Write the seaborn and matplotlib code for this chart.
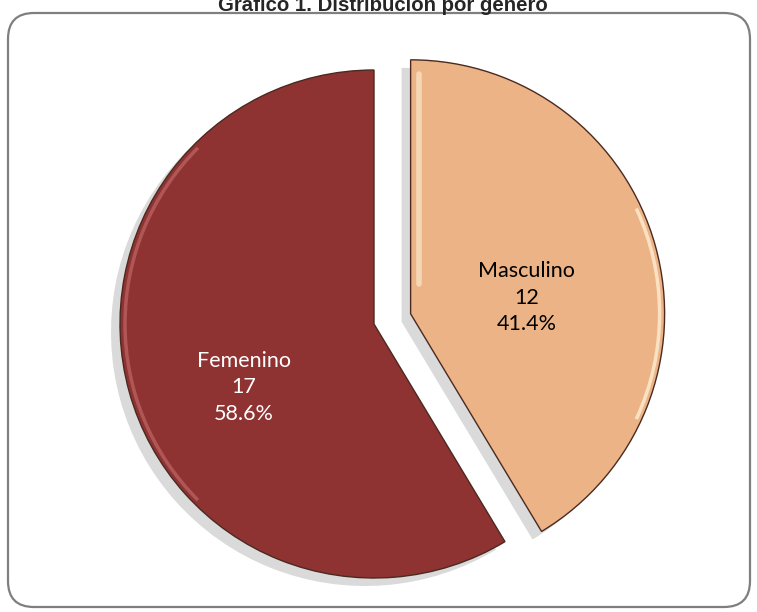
import numpy as np
import seaborn as sns
import matplotlib.pyplot as plt
from matplotlib.patches import FancyBboxPatch, Arc

# data
generos = ['Masculino', 'Femenino']
cantidades = [12, 17]
porcentajes = [41.4, 58.6]
colores = ['#ecb387', '#8f3232']
color_texto = ['black', 'white']
titulo = 'Gráfico 1. Distribución por género'

sns.set_theme(style='white')
plt.rcParams['font.family'] = ['Lato', 'DejaVu Sans']

W, H = 757, 612
fig = plt.figure(figsize=(W / 100, H / 100), dpi=100)
ax = fig.add_axes([0, 0, 1, 1])

# everything in pixel units, y up
R = 254
centro = (374, H - 324)
explode = [38, 0]   # pie explode is in data units

# soft shadow under the slices
ax.pie(cantidades, radius=R, center=(centro[0] - 9, centro[1] - 8),
       startangle=90, counterclock=False, explode=explode,
       colors=['#dadada', '#dadada'], wedgeprops=dict(linewidth=0))

wedges, _ = ax.pie(cantidades, radius=R, center=centro, startangle=90,
                   counterclock=False, explode=explode, colors=colores,
                   wedgeprops=dict(linewidth=1.0, edgecolor='#4a2a20'))

# bevel highlights (soft)
for w, hc, (a1, a2), al in zip(wedges, ['#fff6dc', '#d98484'],
                               [(-25, 25), (135, 225)], [0.7, 0.45]):
    cx, cy = w.center
    ax.add_patch(Arc((cx, cy), 2 * (R - 5), 2 * (R - 5), theta1=a1, theta2=a2,
                     color=hc, lw=2.5, alpha=al))
mc = wedges[0].center
ax.plot([mc[0] + 8, mc[0] + 8], [mc[1] + 30, mc[1] + R - 14],
        color='#fff6dc', lw=4, alpha=0.55, solid_capstyle='round')

# label text, placed relative to each wedge centre
offsets = [(0.46, 8.0), (0.57, 206.0)]
for w, g, n, p, tc, (fr, ang) in zip(wedges, generos, cantidades, porcentajes,
                                        color_texto, offsets):
    cx, cy = w.center
    x = cx + fr * R * np.cos(np.radians(ang))
    y = cy + fr * R * np.sin(np.radians(ang))
    ax.text(x, y, f'{g}\n{n}\n{p:.1f}%', ha='center', va='center',
            color=tc, fontsize=15.5, linespacing=1.4)

# rounded frame
marco = FancyBboxPatch((8, H - 607), 742, 594,
                       boxstyle='round,pad=0,rounding_size=26',
                       fill=False, edgecolor='#7f7f7f', linewidth=1.6)
ax.add_patch(marco)

# title sits partly above the top edge, as in the source image
ax.text(383, H - 11, titulo, ha='center', va='baseline', fontsize=14.7,
        fontweight='bold', family=['Liberation Sans', 'DejaVu Sans'])

ax.set_xlim(0, W)
ax.set_ylim(0, H)
ax.set_aspect('auto')
ax.axis('off')

fig.savefig('out.png', dpi=100)
